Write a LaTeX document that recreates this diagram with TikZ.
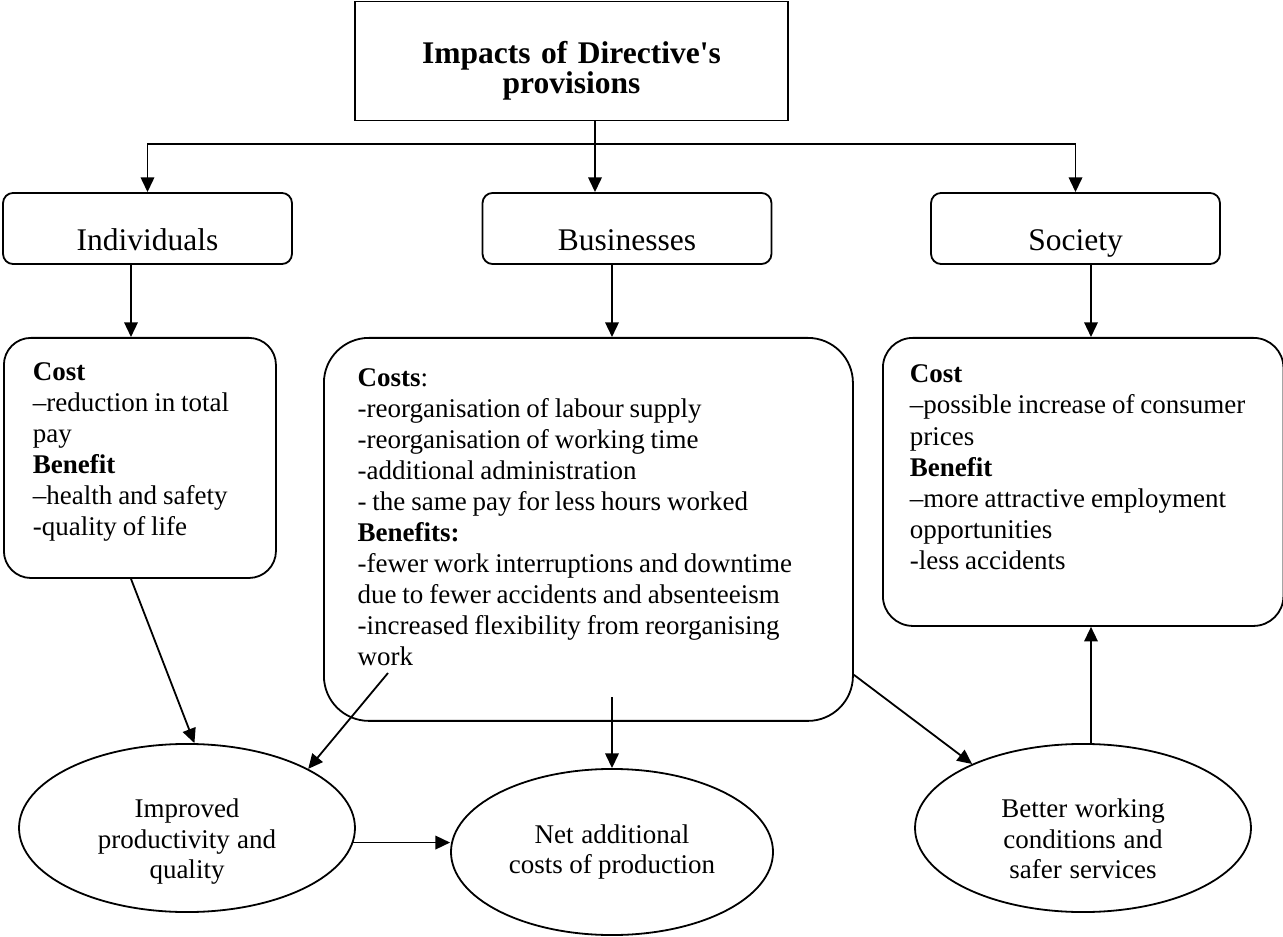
\documentclass[tikz,border=0pt]{standalone}
\usepackage{fontspec}
\setmainfont{Liberation Serif}
\usetikzlibrary{shapes.geometric, arrows.meta, positioning, calc}
\protected\def\nodespacing{\spaceskip=2.6pt plus 1.3pt minus 0.9pt\relax}

\begin{document}
\begin{tikzpicture}[
  x=0.4444pt, y=-0.4444pt, line width=0.8pt,
  headbox/.style={rectangle, draw, font=\fontsize{14}{12.6}\selectfont\bfseries, align=center, text width=185pt, inner sep=0pt, text height=2pt, text depth=0.2pt, minimum width=192.4pt, minimum height=52.9pt},
  grp/.style={rectangle, draw, rounded corners=4.5pt, font=\fontsize{14}{17}\selectfont, minimum width=128.4pt, minimum height=31.6pt, inner sep=2pt, text height=20pt, text depth=0pt},
  detail/.style={rectangle, draw, anchor=north west, inner ysep=0pt, font=\fontsize{12}{13.8}\selectfont, execute at begin node=\nodespacing},
  outcome/.style={ellipse, draw, align=center, text width=100pt, inner sep=0pt, font=\fontsize{12}{13.4}\selectfont, execute at begin node=\nodespacing, minimum width=149.3pt, minimum height=74.7pt, text height=1pt, text depth=9.9pt},
  arr/.style={-{Triangle[length=6.5pt,width=6pt]}},
]
\useasboundingbox (0,0) rectangle (1283,937);

%% Top level
\node[headbox] (impacts) at (571.5,61) {Impacts of Directive\textquotesingle s\\provisions};

\node[grp] (ind) at (147.5,228.5) {Individuals};
\node[grp] (bus) at (627,228.5)   {Businesses};
\node[grp] (soc) at (1075.5,228.5) {Society};

%% Costs and benefits
\node[detail, rounded corners=12pt, text width=95.1pt, inner xsep=12.9pt, text height=19pt, text depth=87.7pt] (indcost) at (3,337)
  {\textbf{Cost}\\--reduction in total\\pay\\\textbf{Benefit}\\--health and safety\\-quality of life};
\node[detail, rounded corners=20pt, text width=205.1pt, inner xsep=15pt, text height=21.5pt, text depth=148.7pt] (buscost) at (323,337)
  {\textbf{Costs}:\\-reorganisation of labour supply\\-reorganisation of working time\\-additional administration\\- the same pay for less hours worked\\\textbf{Benefits:}\\-fewer work interruptions and downtime\\due to fewer accidents and absenteeism\\-increased flexibility from reorganising\\work};
\node[detail, rounded corners=13.3pt, text width=154pt, inner xsep=12pt, text height=20pt, text depth=108pt] (soccost) at (882,337)
  {\textbf{Cost}\\--possible increase of consumer\\prices\\\textbf{Benefit}\\--more attractive employment\\opportunities\\-less accidents};

%% Outcomes
\node[outcome] (improved) at (187,828) {Improved\\productivity and\\quality};
\node[outcome, minimum width=143.1pt, minimum height=73.8pt, text height=2pt, text depth=10pt] (net) at (612,852) {Net additional\\costs of production};
\node[outcome] (better) at (1083,828) {Better working\\conditions and\\safer services};

%% Tree arrows
\coordinate (split) at (595,144);
\draw[arr] (impacts.south -| split) -- (split |- bus.north);
\draw[arr] (split) -| (ind.north);
\draw[arr] (split) -| (soc.north);

\coordinate (indout) at ($(ind.south)+(-16.5,0)$);
\coordinate (busout) at ($(bus.south)+(-15,0)$);
\coordinate (socout) at ($(soc.south)+(15.5,0)$);
\draw[arr] (indout) -- (indout |- indcost.north);
\draw[arr] (busout) -- (busout |- buscost.north);
\draw[arr] (socout) -- (socout |- soccost.north);

%% Effects
\coordinate (worktail) at (388,673);
\coordinate (busmid) at (612,697);
\draw[arr] (indout |- indcost.south) -- (improved.85);
\draw[arr] (worktail) -- (improved.26);
\draw[arr] (busmid) -- (busmid |- net.north);
\draw[arr] ($(buscost.south east)+(0,-47)$) -- (better.150);
\draw[arr] (improved.-5) -- (improved.-5 -| net.west);
\draw[arr] (socout |- better.north) -- (socout |- soccost.south);
\end{tikzpicture}
\end{document}
